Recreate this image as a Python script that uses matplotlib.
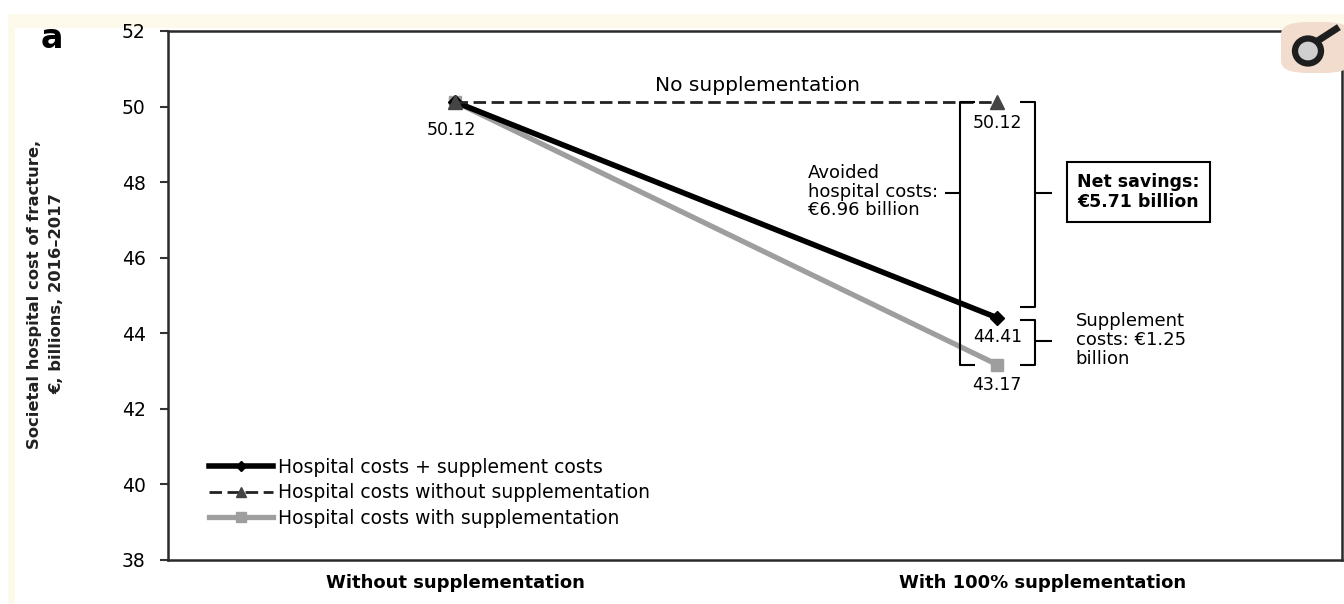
import matplotlib
matplotlib.use("Agg")
import matplotlib.pyplot as plt
from matplotlib.patches import Rectangle, Ellipse, FancyBboxPatch
from matplotlib.lines import Line2D

plt.rcParams["font.family"] = ["DejaVu Sans"]

# data
categories = ["Without supplementation", "With 100% supplementation"]
with_supp_total = [50.12, 44.41]     # hospital + supplement costs
without_supp = [50.12, 50.12]        # no supplementation
with_supp_hosp = [50.12, 43.17]      # hospital costs with supplementation
series_labels = ["Hospital costs + supplement costs",
                 "Hospital costs without supplementation",
                 "Hospital costs with supplementation"]
avoided = "Avoided\nhospital costs:\n€6.96 billion"
net = "Net savings:\n€5.71 billion"
supp = "Supplement\ncosts: €1.25\nbillion"

fig = plt.figure(figsize=(13.44, 6.04), dpi=100)
fig.patch.set_facecolor("white")

# faint cream frame of the scanned figure
fig.add_artist(Rectangle((8 / 1344, 0), 1, 1 - 14 / 604, transform=fig.transFigure,
                         facecolor="#fdfaec", edgecolor="none", zorder=-10))
fig.add_artist(Rectangle((15 / 1344, 0), 1, 1 - 28 / 604, transform=fig.transFigure,
                         facecolor="white", edgecolor="none", zorder=-9))

ax = fig.add_axes([168 / 1344, 44 / 604, 1174 / 1344, 529 / 604])
x = [0, 1]
ax.plot(x, with_supp_hosp, color="#9e9e9e", lw=3.8, marker="s", ms=9,
        mec="#9e9e9e", label=series_labels[2], zorder=3)
ax.plot(x, with_supp_total, color="black", lw=4.0, marker="D", ms=7,
        label=series_labels[0], zorder=4)
ax.plot(x, without_supp, color="#222222", lw=2.0, dashes=(4.5, 2), marker="^",
        ms=10, mfc="#444444", mec="#444444", label=series_labels[1], zorder=5)

ax.set_xlim(-0.53, 1.636)
ax.set_ylim(38, 52)
ax.set_yticks(range(38, 53, 2))
ax.set_xticks([0, 1.084])
ax.set_xticklabels(categories, fontweight="bold", fontsize=13)
ax.tick_params(axis="x", length=0, pad=10)
ax.tick_params(axis="y", length=6, width=1.5, pad=10, labelsize=13.5, color="#333333")
for s in ax.spines.values():
    s.set_linewidth(1.8)
    s.set_color("#2a2a2a")

# value labels
lab = dict(textcoords="offset points", ha="center", va="center", fontsize=12.5)
ax.annotate(f"{with_supp_total[0]:.2f}", (x[0], with_supp_total[0]), xytext=(-3, -20), **lab)
ax.annotate(f"{without_supp[1]:.2f}", (x[1], without_supp[1]), xytext=(0, -15), **lab)
ax.annotate(f"{with_supp_total[1]:.2f}", (x[1], with_supp_total[1]), xytext=(0, -14), **lab)
ax.annotate(f"{with_supp_hosp[1]:.2f}", (x[1], with_supp_hosp[1]), xytext=(0, -14.5), **lab)

ax.text(0.557, 50.57, "No supplementation", ha="center", va="center", fontsize=14.5)


def bracket(xb, y0, y1, serif, ymid, tick):
    kw = dict(color="black", lw=1.5, solid_capstyle="butt", zorder=6)
    ax.plot([xb + serif, xb, xb, xb + serif], [y0, y0, y1, y1], **kw)
    ax.plot([xb, xb + tick], [ymid, ymid], **kw)


# avoided hospital costs: no supplementation -> with supplementation
bracket(0.931, without_supp[1], with_supp_hosp[1], 0.028, 47.71, -0.027)
# net savings
bracket(1.070, without_supp[1], with_supp_total[1] + 0.29, -0.028, 47.71, 0.031)
# supplement costs
bracket(1.070, with_supp_total[1] - 0.05, with_supp_hosp[1], -0.028,
        (with_supp_total[1] + with_supp_hosp[1]) / 2, 0.031)

ax.text(0.651, 47.75, avoided, ha="left", va="center", fontsize=13, linespacing=1.05)
ax.text(1.26, 47.74, net, ha="center", va="center", fontsize=12.5, fontweight="bold",
        linespacing=1.2,
        bbox=dict(boxstyle="square,pad=0.6", facecolor="white", edgecolor="black", lw=1.5))
ax.text(1.145, 43.82, supp, ha="left", va="center", fontsize=13, linespacing=1.05)

handles = [
    Line2D([], [], color="black", lw=4.0, marker="D", ms=5),
    Line2D([], [], color="#222222", lw=2.0, dashes=(4.5, 2), marker="^", ms=7,
           mfc="#444444", mec="#444444"),
    Line2D([], [], color="#9e9e9e", lw=3.8, marker="s", ms=7, mec="#9e9e9e"),
]
ax.legend(handles, series_labels, loc="center left", bbox_to_anchor=(0.035, 0.127),
          frameon=False, fontsize=13.5, handlelength=3.4, handletextpad=0.3,
          labelspacing=0.35, borderaxespad=0, borderpad=0)

fig.text(52 / 1344, 1 - 38 / 604, "a", fontsize=24, fontweight="bold", ha="center", va="center")
fig.text(46 / 1344, 1 - 294 / 604,
         "Societal hospital cost of fracture,\n€, billions, 2016–2017",
         rotation=90, ha="center", va="center", multialignment="center",
         fontsize=11.8, fontweight="bold", color="#222222", linespacing=1.6)

# small badge in the top-right corner
fig.add_artist(FancyBboxPatch((1281 / 1344, 1 - 73 / 604), 70 / 1344, 51 / 604,
                              boxstyle="round,pad=0,rounding_size=0.02",
                              transform=fig.transFigure, facecolor="#f2dccd",
                              edgecolor="none", zorder=10))
fig.add_artist(Ellipse((1308 / 1344, 1 - 51 / 604), 26 / 1344, 25 / 604,
                       transform=fig.transFigure, facecolor="#cfcfcf",
                       edgecolor="#1e1e1e", lw=4.5, zorder=11))
fig.add_artist(Line2D([1319 / 1344, 1336 / 1344], [1 - 40 / 604, 1 - 29 / 604],
                      transform=fig.transFigure, color="#1e1e1e", lw=5, zorder=11))

fig.savefig("out.png", dpi=100)
